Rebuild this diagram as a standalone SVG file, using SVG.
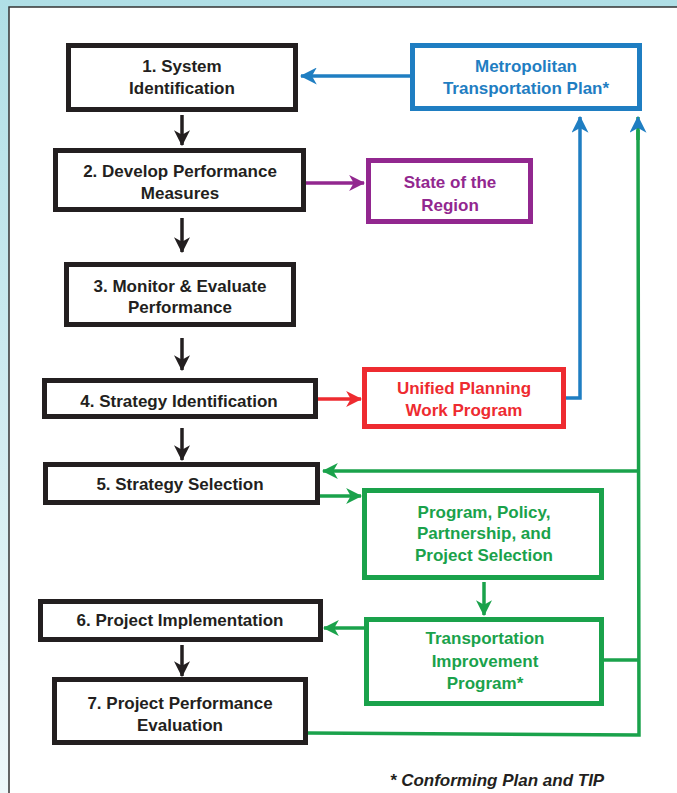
<svg xmlns="http://www.w3.org/2000/svg" width="677" height="793" viewBox="0 0 677 793">
<style>
.box{fill:#fff;stroke-width:5}
.k{stroke:#231f20}
.bl{stroke:#1f7ec2}
.pu{stroke:#92278f}
.rd{stroke:#ee2b30}
.gr{stroke:#1aa24b}
.t{font-family:"Liberation Sans",Arial,sans-serif;font-weight:bold;font-size:17px;text-anchor:middle}
.tk{fill:#231f20}.tb{fill:#1f7ec2}.tp{fill:#92278f}.tr{fill:#ee2b30}.tg{fill:#1aa24b}
.c{fill:none;stroke-width:3.5}
</style>
<defs>
<linearGradient id="bg" x1="0" y1="0" x2="0" y2="1">
<stop offset="0" stop-color="#b0dfe6"/>
<stop offset="1" stop-color="#eef8fa"/>
</linearGradient>
<marker id="ak" viewBox="0 0 14 14" refX="13" refY="7" markerWidth="16" markerHeight="16" markerUnits="userSpaceOnUse" orient="auto"><path d="M0,0 L14,7 L0,14 L4,7 z" fill="#231f20"/></marker>
<marker id="ab" viewBox="0 0 14 14" refX="13" refY="7" markerWidth="17" markerHeight="17" markerUnits="userSpaceOnUse" orient="auto"><path d="M0,0 L14,7 L0,14 L4,7 z" fill="#1f7ec2"/></marker>
<marker id="ap" viewBox="0 0 14 14" refX="13" refY="7" markerWidth="16" markerHeight="16" markerUnits="userSpaceOnUse" orient="auto"><path d="M0,0 L14,7 L0,14 L4,7 z" fill="#92278f"/></marker>
<marker id="ar" viewBox="0 0 14 14" refX="13" refY="7" markerWidth="16" markerHeight="16" markerUnits="userSpaceOnUse" orient="auto"><path d="M0,0 L14,7 L0,14 L4,7 z" fill="#ee2b30"/></marker>
<marker id="ag" viewBox="0 0 14 14" refX="13" refY="7" markerWidth="16" markerHeight="16" markerUnits="userSpaceOnUse" orient="auto"><path d="M0,0 L14,7 L0,14 L4,7 z" fill="#1aa24b"/></marker>
</defs>
<rect x="0" y="0" width="677" height="793" fill="url(#bg)"/>
<rect x="9" y="7" width="680" height="800" fill="#fff" stroke="#333" stroke-width="1.5"/>

<g id="connectors">
<line class="c bl" x1="410" y1="76" x2="301" y2="76" marker-end="url(#ab)"/>
<line class="c k" x1="182" y1="115" x2="182" y2="145" marker-end="url(#ak)"/>
<line class="c pu" x1="306" y1="183" x2="364" y2="183" marker-end="url(#ap)"/>
<line class="c k" x1="182" y1="218" x2="182" y2="252" marker-end="url(#ak)"/>
<line class="c k" x1="182" y1="338" x2="182" y2="370" marker-end="url(#ak)"/>
<line class="c rd" x1="318" y1="399" x2="361" y2="399" marker-end="url(#ar)"/>
<polyline class="c bl" points="566,398 580,398 580,117" marker-end="url(#ab)"/>
<line class="c k" x1="182" y1="428" x2="182" y2="460" marker-end="url(#ak)"/>
<polyline class="c gr" points="308,733 639,735 638,130"/>
<line class="c gr" x1="638" y1="140" x2="638" y2="117" marker-end="url(#ab)"/>
<line class="c gr" x1="638" y1="471" x2="323" y2="471" marker-end="url(#ag)"/>
<line class="c gr" x1="320" y1="496" x2="361" y2="496" marker-end="url(#ag)"/>
<line class="c gr" x1="484" y1="582" x2="484" y2="615" marker-end="url(#ag)"/>
<line class="c gr" x1="364" y1="628" x2="324" y2="628" marker-end="url(#ag)"/>
<line class="c gr" x1="604" y1="660" x2="638" y2="660"/>
<line class="c k" x1="182" y1="645" x2="182" y2="676" marker-end="url(#ak)"/>
</g>

<g id="n1"><rect class="box k" x="68.5" y="45.5" width="227" height="64"/>
<text class="t tk" x="182" y="72">1. System</text><text class="t tk" x="182" y="94">Identification</text></g>

<g id="mtp"><rect class="box bl" x="412.5" y="45.5" width="227" height="63"/>
<text class="t tb" x="526" y="72">Metropolitan</text><text class="t tb" x="526" y="94">Transportation Plan*</text></g>

<g id="n2"><rect class="box k" x="55.5" y="150.5" width="248" height="59"/>
<text class="t tk" x="180" y="177">2. Develop Performance</text><text class="t tk" x="180" y="199">Measures</text></g>

<g id="sor"><rect class="box pu" x="368.5" y="160.5" width="162" height="61"/>
<text class="t tp" x="450" y="188">State of the</text><text class="t tp" x="450" y="211">Region</text></g>

<g id="n3"><rect class="box k" x="66.5" y="264.5" width="227" height="60"/>
<text class="t tk" x="180" y="292">3. Monitor &amp; Evaluate</text><text class="t tk" x="180" y="313">Performance</text></g>

<g id="n4"><rect class="box k" x="44.5" y="380.5" width="271" height="36"/>
<text class="t tk" x="179" y="407">4. Strategy Identification</text></g>

<g id="upwp"><rect class="box rd" x="364.5" y="369.5" width="199" height="57"/>
<text class="t tr" x="464" y="394">Unified Planning</text><text class="t tr" x="464" y="416">Work Program</text></g>

<g id="n5"><rect class="box k" x="45.5" y="464.5" width="272" height="38"/>
<text class="t tk" x="180" y="490">5. Strategy Selection</text></g>

<g id="ppps"><rect class="box gr" x="364.5" y="490.5" width="237" height="87"/>
<text class="t tg" x="484" y="518">Program, Policy,</text><text class="t tg" x="484" y="539">Partnership, and</text><text class="t tg" x="484" y="561">Project Selection</text></g>

<g id="n6"><rect class="box k" x="40.5" y="601.5" width="280" height="38"/>
<text class="t tk" x="180" y="626">6. Project Implementation</text></g>

<g id="tip"><rect class="box gr" x="366.5" y="619.5" width="235" height="84"/>
<text class="t tg" x="485" y="644">Transportation</text><text class="t tg" x="485" y="667">Improvement</text><text class="t tg" x="485" y="689">Program*</text></g>

<g id="n7"><rect class="box k" x="54.5" y="679.5" width="251" height="63"/>
<text class="t tk" x="180" y="709">7. Project Performance</text><text class="t tk" x="180" y="731">Evaluation</text></g>

<text class="t tk" x="497" y="786" style="font-style:italic;font-size:17px">* Conforming Plan and TIP</text>
</svg>
